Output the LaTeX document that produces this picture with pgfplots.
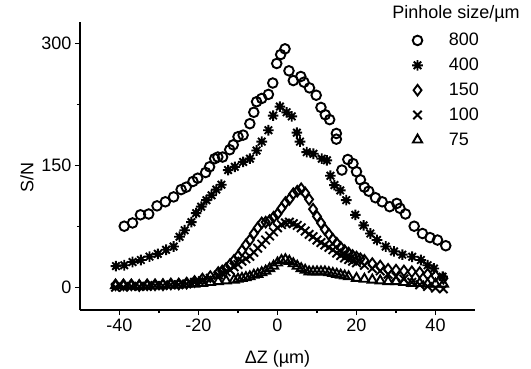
\documentclass[border=0pt]{standalone}
\usepackage{pgfplots}
\pgfplotsset{compat=1.18}
\usepackage{fontspec}
\setmainfont{Liberation Sans}
\pgfdeclareplotmark{ast8}{%
 \pgfpathmoveto{\pgfqpoint{0pt}{\pgfplotmarksize}}\pgfpathlineto{\pgfqpoint{0pt}{-\pgfplotmarksize}}%
 \pgfpathmoveto{\pgfqpoint{\pgfplotmarksize}{0pt}}\pgfpathlineto{\pgfqpoint{-\pgfplotmarksize}{0pt}}%
 \pgfpathmoveto{\pgfqpoint{.707\pgfplotmarksize}{.707\pgfplotmarksize}}\pgfpathlineto{\pgfqpoint{-.707\pgfplotmarksize}{-.707\pgfplotmarksize}}%
 \pgfpathmoveto{\pgfqpoint{.707\pgfplotmarksize}{-.707\pgfplotmarksize}}\pgfpathlineto{\pgfqpoint{-.707\pgfplotmarksize}{.707\pgfplotmarksize}}%
 \pgfusepathqstroke}
\newcommand\bigf{\fontsize{18}{21}\selectfont}
\begin{document}
\begin{tikzpicture}[font=\bigf]
\begin{axis}[
  at={(0,0)}, anchor=south west,
  scale only axis, width=395pt, height=288pt,
  xmin=-50, xmax=50, ymin=-28, ymax=326,
  clip=false,
  axis lines*=left,
  axis line style={line width=1.3pt},
  xtick={-40,-20,0,20,40}, ytick={0,150,300},
  minor x tick num=1, minor y tick num=1,
  tick align=outside,
  major tick length=5pt, minor tick length=3pt,
  tick style={line width=1.3pt, black},
  tick label style={font=\bigf},
  label style={font=\bigf},
  /pgf/number format/assume math mode=true,
  xlabel={ΔZ (µm)}, ylabel={S/N},
  xlabel style={at={(rel axis cs:0.5,-0.17)}, anchor=center},
  ylabel style={at={(rel axis cs:-0.134,0.46)}, anchor=center},
  legend cell align=left,
  legend style={draw=none, fill=none, at={(rel axis cs:0.833,0.975)}, anchor=north west, row sep=6.8pt, column sep=24pt, font=\bigf},
  every axis plot/.append style={only marks, black, line width=1.9pt},
]
\addplot[mark=o, mark size=4.8pt] coordinates {
(-38.8,75)(-36.7,79)(-34.7,89)(-32.6,90)(-30.5,100)(-28.4,105)(-26.3,111)(-24.4,120)(-23.1,123)(-21.4,130)(-20.2,134)(-18.2,141)(-17.2,148)(-15.9,158)(-15.1,160)(-13.9,160)(-12.1,169)(-11.2,175)(-10,185)(-8.7,187)(-7,201)(-6,215)(-5.3,228)(-4,232)(-2.3,237)(-1.2,251)(-0.2,275)(0.8,286)(1.9,293)(2.9,266)(4,254)(5.9,259)(6.7,252)(8.1,245)(9.8,236)(11,221)(12.1,212)(13.2,206)(14.9,189)(14.9,182)(16.3,144)(17.8,157)(19.1,152)(20,142)(21,132)(22,123)(23.1,118)(24.8,110)(26.5,105)(28.4,99)(30.2,103)(31,97)(32.4,90)(34.6,75)(36.7,66)(38.6,61)(40.5,58)(42.6,51)
};
\addlegendentry{800}
\addplot[mark=ast8, mark size=5.3pt] coordinates {
(-40.9,26)(-38.8,27)(-36.7,31)(-34.6,33.5)(-32.4,37.6)(-30.3,41)(-28.2,46)(-26.3,50)(-24.8,62)(-23.5,70)(-21.8,80)(-20.6,91)(-19.3,99)(-18,107)(-16.7,113)(-15.5,120)(-14.2,126)(-12.5,144)(-10.8,148)(-8.7,154)(-7,158)(-5.3,168)(-4,179)(-2.3,193)(-1.1,211)(0.6,222)(2.3,215)(3.6,210)(4.9,190)(5.7,179)(7.4,166)(9.1,164)(11.2,158)(12.5,156)(13.4,137)(14.4,125.5)(15.9,119)(17.4,107)(19.7,89)(21.8,76)(23.5,66)(25.2,58)(27.4,50)(29.5,44)(31.6,40)(34.1,37.5)(36.3,33.5)(38,27)(39.6,23)(41.8,13)
};
\addlegendentry{400}
\addplot[mark=diamond, mark size=5.3pt] coordinates {
(-41,3)(-39,3)(-37,3)(-35,2)(-33,3)(-31,3)(-29,3)(-27,4)(-25,4)(-23,5)(-21,7)(-19,10)(-17,13)(-15,18)(-14,20)(-13,23)(-12,28)(-11,33)(-10,38)(-9,45)(-8,52)(-7,58)(-6,66)(-5,73)(-4,79)(-3,80)(-2,82)(-1,86)(0,90)(1,97)(2,104)(3,108)(4,115)(5,118)(6,121)(7,116)(8,108)(9,96)(10,87)(11,79)(12,71)(13,65)(14,59)(15,54)(16,49)(17,45)(18,42)(19,39)(20,37)(21,35)(22,33)(24,29)(26,26)(28,22)(30,21)(32,20)(34,19)(36,18)(38,16)(40,14)(42,11)
};
\addlegendentry{150}
\addplot[mark=x, mark size=6pt] coordinates {
(-41,0)(-39,0)(-37,1)(-35,1)(-33,1)(-31,2)(-29,2)(-27,3)(-25,3)(-23,4)(-21,6)(-19,8)(-17,11)(-15,15)(-14,17)(-13,19)(-12,21)(-11,25)(-10,28)(-9,32)(-8,35)(-7,38)(-6,43)(-5,48)(-4,53)(-3,58)(-2,63)(-1,68)(0,73)(1,77)(2,79)(3,80)(4,78)(5,76)(6,73)(7,69)(8,65)(9,62)(10,58)(11,55)(12,52)(13,49)(14,46)(15,42)(16,39)(17,36)(18,34)(19,32)(20,30)(22,27)(24,23)(26,20)(28,16)(30,13)(32,10)(34,6)(36,3)(38,1)(40,-1)(42,-2)
};
\addlegendentry{100}
\addplot[mark=triangle, mark size=5.3pt] coordinates {
(-41,2)(-39,2)(-37,2)(-35,2)(-33,2)(-31,2)(-29,3)(-27,3)(-25,3)(-23,4)(-21,4)(-19,5)(-17,6)(-15,7)(-13,8)(-11,9)(-10,10)(-9,11)(-8,12)(-7,13)(-6,15)(-5,16)(-4,18)(-3,20)(-2,23)(-1,26)(0,30)(1,33)(2,34)(3,32)(4,29)(5,26)(6,23)(7,21)(8,19)(9,19)(10,19)(11,19)(12,19)(13,18)(14,17)(15,16)(16,15)(17,14)(18,13)(20,11)(22,10)(24,9)(26,8)(28,7)(30,7)(32,6)(34,5)(36,5)(38,4)(40,4)(42,4)
};
\addlegendentry{75}
\node[anchor=center] at (rel axis cs:0.952,1.028) {Pinhole size/µm};
\end{axis}
\pgfresetboundingbox
\path[use as bounding box] (-80pt,-58pt) rectangle (451pt,310pt);
\end{tikzpicture}
\end{document}
